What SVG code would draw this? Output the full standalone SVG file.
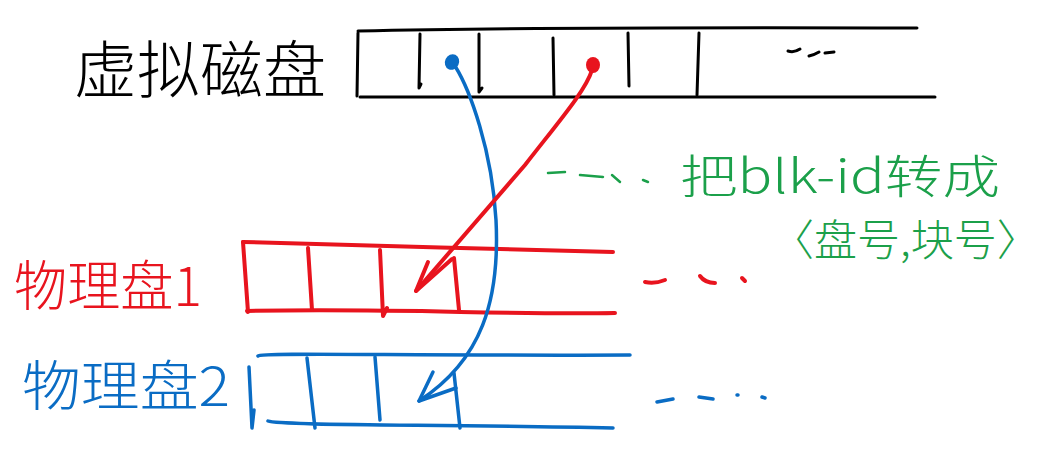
<svg xmlns="http://www.w3.org/2000/svg" width="1041" height="470" viewBox="0 0 1041 470">
<style>
.k{fill:none;stroke:#000;stroke-width:3;stroke-linecap:round;stroke-linejoin:round}
.r{fill:none;stroke:#e8141e;stroke-width:4;stroke-linecap:round;stroke-linejoin:round}
.b{fill:none;stroke:#0a6cc4;stroke-width:3.5;stroke-linecap:round;stroke-linejoin:round}
.g{fill:none;stroke:#1ba04a;stroke-width:2.5;stroke-linecap:round}
.t{font-family:"Noto Sans CJK SC","Noto Sans",sans-serif;font-weight:300}
</style>
<rect width="1041" height="470" fill="#fff"/>
<g id="virtual-disk">
<text class="t" x="74" y="93" font-size="62" fill="#000" textLength="252" lengthAdjust="spacingAndGlyphs">虚拟磁盘</text>
<path class="k" d="M358,31 C450,29 600,27 917,28"/>
<path class="k" d="M360,97 C500,98 700,96 935,97"/>
<path class="k" d="M358,33 L357,96"/>
<path class="k" d="M420,34 L419,88 L421,84"/>
<path class="k" d="M479,34 L479,92 L482,88"/>
<path class="k" d="M553,38 L554,95"/>
<path class="k" d="M628,33 L629,86"/>
<path class="k" d="M699,33 L697,95"/>
<path class="k" d="M788,51 q6,2 12,-2 M809,56 q5,-1 10,-4 M825,53 l9,-1"/>
</g>
<g id="physical-disk-1">
<text class="t" x="14" y="306" font-size="54" fill="#e8141e" textLength="188" lengthAdjust="spacingAndGlyphs">物理盘1</text>
<path class="r" d="M243,242 C350,244 500,250 613,252"/>
<path class="r" d="M247,311 C400,308 500,315 615,313"/>
<path class="r" d="M243,242 L248,312"/>
<path class="r" d="M308,248 L312,310"/>
<path class="r" d="M380,250 L383,316 L387,308"/>
<path class="r" d="M454,258 L459,310"/>
<path class="r" d="M645,282 q10,2 20,-2 M700,276 q5,7 15,7 M742,278 l3,3"/>
</g>
<g id="physical-disk-2">
<text class="t" x="22" y="406" font-size="54" fill="#0a6cc4" textLength="208" lengthAdjust="spacingAndGlyphs">物理盘2</text>
<path class="b" d="M258,356 C262,352 400,356 630,355"/>
<path class="b" d="M268,421 C280,426 450,424 613,428"/>
<path class="b" d="M249,367 L252,428 L254,410"/>
<path class="b" d="M307,358 L315,428"/>
<path class="b" d="M375,357 L380,420"/>
<path class="b" d="M454,373 L460,428"/>
<path class="b" d="M657,402 l16,-3 M699,397 l14,2 M737,395 l1,0 M762,397 l3,1"/>
</g>
<g id="annotation">
<path class="g" d="M548,173 l17,-1 M580,175 l23,2 M612,175 l8,7 M643,180 l5,2"/>
<text class="t" x="680" y="193" font-size="46" fill="#1ba04a" textLength="320" lengthAdjust="spacingAndGlyphs">把blk-id转成</text>
<text class="t" x="771" y="256" font-size="43" fill="#1ba04a">〈盘号,块号〉</text>
</g>
<g id="connectors">
<ellipse cx="452" cy="62" rx="7" ry="8" transform="rotate(25 452 62)" fill="#0a6cc4"/>
<path class="b" d="M455,66 C470,90 492,150 496,220 C500,300 482,360 419,401"/>
<path class="b" d="M433,372 L419,401 L456,388"/>
<ellipse cx="593" cy="65" rx="7" ry="8" fill="#e8141e"/>
<path class="r" d="M592,70 C586,90 560,120 525,165 L416,291"/>
<path class="r" d="M428,262 L416,291 L452,259"/>
</g>
</svg>
